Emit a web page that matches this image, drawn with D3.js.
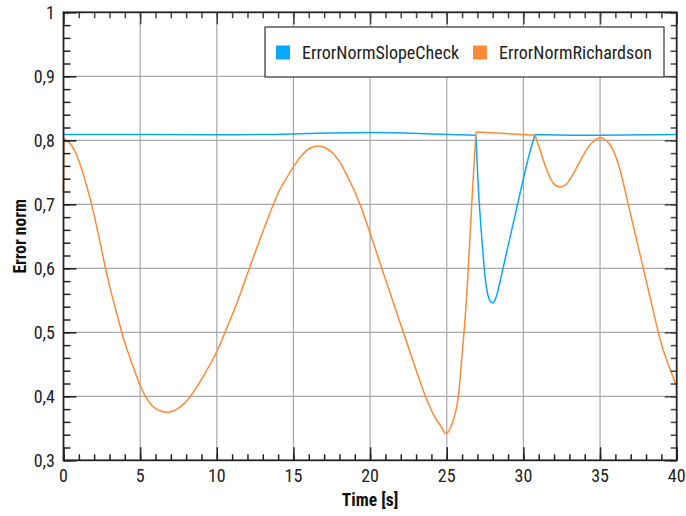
<!DOCTYPE html>
<html>
<head>
<meta charset="utf-8">
<script src="https://cdn.jsdelivr.net/npm/d3@7"></script>
<style>
  html, body { margin: 0; padding: 0; background: #fff; }
  svg { display: block; font-family: "Roboto Condensed", Roboto, sans-serif; }
</style>
</head>
<body>
<svg id="chart" width="686" height="516"></svg>
<script>
// Error norm over time for two estimators
const slopeCheckTime = [0, 5, 10, 15, 20, 24, 26.91, 27.06, 27.28, 27.5, 27.71, 27.97, 28.26, 28.69, 29.24, 29.78, 30.32, 30.76, 33, 35, 40];
const slopeCheckNorm = [0.809, 0.809, 0.8085, 0.810, 0.812, 0.810, 0.808, 0.727, 0.649, 0.587, 0.556, 0.546, 0.558, 0.602, 0.660, 0.717, 0.772, 0.809, 0.808, 0.808, 0.809];
const slopeCheckCorners = [26.91, 30.76];

const richardsonTime = [0, 0.03, 0.5, 1.0, 1.5, 2.0, 2.5, 3.0, 3.5, 4.0, 4.5, 5.0, 5.5, 6.0, 6.8, 7.6, 8.25, 9.12, 10.0, 10.54, 11.3, 12.17, 13.69, 14.3, 15.0, 15.64, 16.1, 16.62, 17.1, 17.6, 18.1, 18.47, 19.34, 20.76, 22.17, 23.58, 24.34, 24.7, 25.0, 25.43, 25.75, 25.97, 26.19, 26.41, 26.63, 26.78, 26.91, 30.76, 31.08, 31.52, 31.95, 32.39, 32.93, 33.69, 34.35, 35.0, 35.4, 35.8, 36.3, 36.84, 37.33, 37.82, 38.3, 38.8, 39.1, 39.45, 40];
const richardsonNorm = [0.72, 0.803, 0.793, 0.768, 0.730, 0.683, 0.627, 0.573, 0.527, 0.484, 0.449, 0.417, 0.394, 0.381, 0.375, 0.383, 0.399, 0.431, 0.470, 0.500, 0.545, 0.603, 0.700, 0.731, 0.759, 0.779, 0.788, 0.791, 0.788, 0.779, 0.763, 0.746, 0.700, 0.600, 0.500, 0.402, 0.363, 0.350, 0.342, 0.363, 0.399, 0.457, 0.519, 0.602, 0.700, 0.762, 0.813, 0.808, 0.785, 0.754, 0.733, 0.727, 0.735, 0.767, 0.793, 0.804, 0.800, 0.787, 0.754, 0.700, 0.650, 0.600, 0.551, 0.500, 0.474, 0.450, 0.415];
const richardsonCorners = [0.03, 26.91, 30.76];

const seriesNames = ["ErrorNormSlopeCheck", "ErrorNormRichardson"];
const seriesColors = ["#0aa8fa", "#ff8a36"];

const xMajorTicks = [0, 5, 10, 15, 20, 25, 30, 35, 40];
const yMajorTicks = [0.3, 0.4, 0.5, 0.6, 0.7, 0.8, 0.9, 1];
const xTitle = "Time [s]";
const yTitle = "Error norm";

const svg = d3.select("#chart");
const plotLeft = 63.5, plotRight = 676.7, plotTop = 12.3, plotBottom = 460.3;

const x = d3.scaleLinear().domain([0, 40]).range([plotLeft, plotRight]);
const y = d3.scaleLinear().domain([0.3, 1]).range([plotBottom, plotTop]);

const xMinor = d3.range(0, 40.001, 1);
const yMinor = d3.range(0, 36).map(i => 0.3 + i * 0.02);

const fmtY = v => Math.abs(v - 1) < 1e-9 ? "1" : d3.format(".1f")(v).replace(".", ",");

// grid
const grid = svg.append("g").attr("stroke", "#a9a9a9").attr("stroke-width", 1.2);
grid.selectAll(".gx").data(xMajorTicks.slice(1, -1)).join("line")
  .attr("x1", d => x(d)).attr("x2", d => x(d)).attr("y1", plotTop).attr("y2", plotBottom);
grid.selectAll(".gy").data(yMajorTicks.slice(1, -1)).join("line")
  .attr("x1", plotLeft).attr("x2", plotRight).attr("y1", d => y(d)).attr("y2", d => y(d));

// series: smooth pieces joined at sharp corners
const line = d3.line().x(d => x(d[0])).y(d => y(d[1])).curve(d3.curveNatural);
function piecewisePath(times, values, corners) {
  const pts = times.map((t, i) => [t, values[i]]);
  const pieces = [];
  let cur = [];
  pts.forEach(p => {
    cur.push(p);
    if (corners.includes(p[0])) { pieces.push(cur); cur = [p]; }
  });
  if (cur.length > 1) pieces.push(cur);
  return pieces.map(line).join("");
}

svg.append("path").attr("d", piecewisePath(slopeCheckTime, slopeCheckNorm, slopeCheckCorners))
  .attr("fill", "none").attr("stroke", seriesColors[0]).attr("stroke-width", 1.5)
  .attr("stroke-linejoin", "round");
svg.append("path").attr("d", piecewisePath(richardsonTime, richardsonNorm, richardsonCorners))
  .attr("fill", "none").attr("stroke", seriesColors[1]).attr("stroke-width", 1.5)
  .attr("stroke-linejoin", "round");

// inward ticks on all four sides
function ticks(axisGen, values, size, transform, color) {
  const g = svg.append("g").attr("transform", transform)
    .call(axisGen.tickValues(values).tickSize(size).tickFormat(""));
  g.select(".domain").remove();
  g.selectAll(".tick line").attr("stroke", color).attr("stroke-width", 1.5);
  return g;
}
ticks(d3.axisBottom(x), xMinor, -6, `translate(0,${plotBottom})`, "#222");
ticks(d3.axisBottom(x), xMajorTicks, -13, `translate(0,${plotBottom})`, "#222");
ticks(d3.axisTop(x), xMinor, -6, `translate(0,${plotTop})`, "#444");
ticks(d3.axisTop(x), xMajorTicks, -12, `translate(0,${plotTop})`, "#444");
ticks(d3.axisLeft(y), yMinor, -7, `translate(${plotLeft},0)`, "#222");
ticks(d3.axisLeft(y), yMajorTicks, -13, `translate(${plotLeft},0)`, "#222");
ticks(d3.axisRight(y), yMinor, -6, `translate(${plotRight},0)`, "#444");
ticks(d3.axisRight(y), yMajorTicks, -12, `translate(${plotRight},0)`, "#444");

// frame
svg.append("rect").attr("x", plotLeft).attr("y", plotTop)
  .attr("width", plotRight - plotLeft).attr("height", plotBottom - plotTop)
  .attr("fill", "none").attr("stroke", "#222").attr("stroke-width", 1.8);

// tick labels
svg.append("g").selectAll("text").data(xMajorTicks).join("text")
  .attr("x", d => x(d)).attr("y", 482)
  .attr("text-anchor", "middle").attr("font-size", 18).attr("fill", "#222")
  .text(d => d);
svg.append("g").selectAll("text").data(yMajorTicks).join("text")
  .attr("x", 55).attr("y", d => y(d)).attr("dy", "0.36em")
  .attr("text-anchor", "end").attr("font-size", 18).attr("fill", "#222")
  .text(fmtY);

// axis titles
svg.append("text").attr("x", (plotLeft + plotRight) / 2).attr("y", 506)
  .attr("text-anchor", "middle").attr("font-size", 17.5).attr("font-weight", "bold")
  .attr("fill", "#111").text(xTitle);
svg.append("text").attr("transform", `translate(26,${(plotTop + plotBottom) / 2}) rotate(-90)`)
  .attr("text-anchor", "middle").attr("font-size", 17.5).attr("font-weight", "bold")
  .attr("fill", "#111").text(yTitle);

// legend
const lg = svg.append("g");
lg.append("rect").attr("x", 265).attr("y", 27).attr("width", 399).attr("height", 50)
  .attr("fill", "#fff").attr("stroke", "#333").attr("stroke-width", 1.2);
const legendX = [276, 473];
seriesNames.forEach((name, i) => {
  lg.append("rect").attr("x", legendX[i]).attr("y", 45.5).attr("width", 14).attr("height", 14)
    .attr("fill", seriesColors[i]);
  lg.append("text").attr("x", legendX[i] + 26).attr("y", 59)
    .attr("font-size", 18).attr("fill", "#222").text(name);
});
</script>
</body>
</html>
